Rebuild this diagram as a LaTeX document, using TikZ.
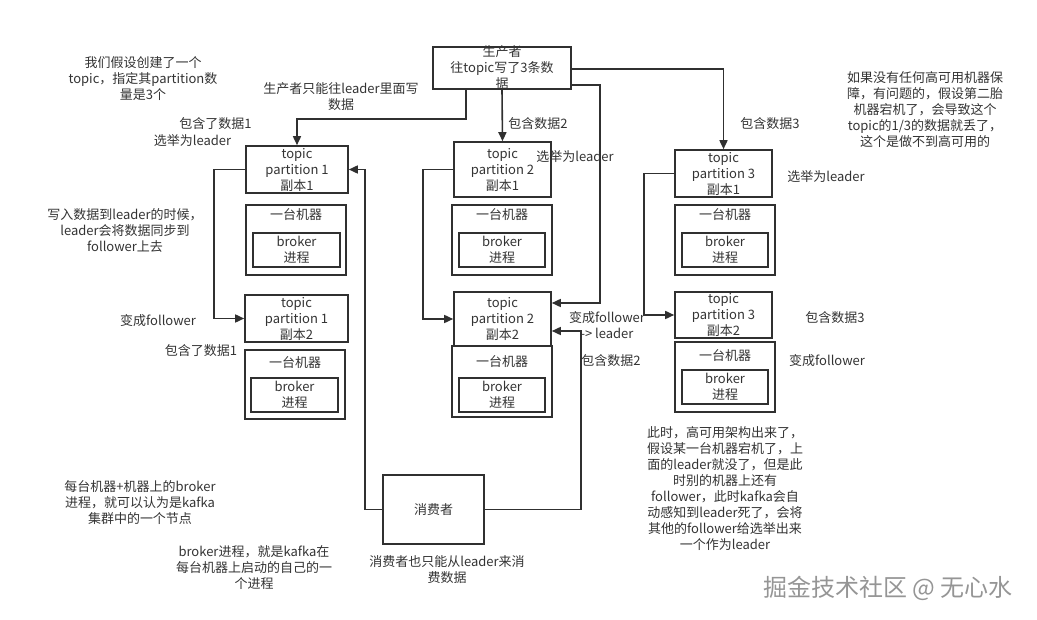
\documentclass[tikz,border=0pt]{standalone}
\usepackage{fontspec}
\setmainfont{Noto Sans CJK SC}
\usetikzlibrary{arrows.meta,calc}
\definecolor{lc}{HTML}{303030}
\definecolor{txt}{HTML}{333333}
\definecolor{wm}{HTML}{959595}
\begin{document}
\begin{tikzpicture}[x=1pt,y=-1pt,
  every node/.style={font=\fontsize{13}{16}\selectfont, text=txt, align=center, inner sep=0pt},
  box/.style={draw=lc, line width=1.6pt},
  conn/.style={draw=lc, line width=1.6pt},
  arr/.style={conn, -{Triangle[length=9pt,width=8pt]}},
  mach/.style={box, minimum width=100pt, minimum height=70pt, label={[anchor=north, yshift=-#1]north:一台机器}},
  mach/.default=4pt,
  brok/.style={box, minimum width=87pt, minimum height=34pt, label={center:broker\\进程}}
]
\useasboundingbox (0,0) rectangle (1037,620);

% producer
\node[box, minimum width=138pt, minimum height=42pt, label={center:生产者\\往topic写了3条数\\据}] (prod) at (502,68) {};

% partition 1
\node[box, minimum width=102pt, minimum height=47pt, label={center:topic\\partition 1\\副本1}] (p1r1) at (297,169.5) {};
\node[mach] (m1a) at (296,240) {};
\node[brok] (b1a) at (296.5,250) {};
\node[box, minimum width=103pt, minimum height=47pt, label={center:topic\\partition 1\\副本2}] (p1r2) at (296.5,318.5) {};
\node[mach=7pt, minimum height=69pt] (m1b) at (295,384.5) {};
\node[brok] (b1b) at (294.5,395) {};

% partition 2
\node[box, minimum width=97pt, minimum height=55pt, label={center:topic\\partition 2\\副本1}] (p2r1) at (502.5,169.5) {};
\node[mach] (m2a) at (502,240) {};
\node[brok, minimum width=86pt] (b2a) at (502,250) {};
\node[box, minimum width=97pt, minimum height=54pt, label={center:topic\\partition 2\\副本2}] (p2r2) at (502.5,319) {};
\node[mach=10pt, minimum height=71pt] (m2b) at (502,381.5) {};
\node[brok, minimum width=86pt] (b2b) at (502,395) {};

% partition 3
\node[box, minimum width=97pt, minimum height=47pt, label={center:topic\\partition 3\\副本1}] (p3r1) at (723.5,173.5) {};
\node[mach] (m3a) at (725,240) {};
\node[brok, minimum width=86pt] (b3a) at (725,250) {};
\node[box, minimum width=97pt, minimum height=46pt, label={center:topic\\partition 3\\副本2}] (p3r2) at (723.5,315) {};
\node[mach=8pt] (m3b) at (725,377) {};
\node[brok, minimum width=86pt] (b3b) at (725,387) {};

% consumer
\node[box, minimum width=101pt, minimum height=69pt] (cons) at (433.5,509.5) {消费者};

% connectors
\draw[arr] ($(prod.south)+(-36,0)$) -- ++(0,29) -| (p1r1.north);
\draw[arr] (prod.south) -- (p2r1.north);
\draw[arr] ($(prod.east)+(0,1)$) -| (p3r1.north);
\draw[arr] ($(prod.east)+(0,17)$) -| (600,303) -- ($(p2r2.east)+(0,-16)$);
\draw[arr] (p1r1.west) -- ++(-31,0) |- (p1r2.west);
\draw[arr] (p2r1.west) -- ++(-30,0) |- (p2r2.west);
\draw[arr] (p3r1.west) -- ++(-30,0) |- (p3r2.west);
\draw[arr] (cons.west) -- ++(-17,0) |- (p1r1.east);
\draw[arr] (cons.east) -- ++(96,0) |- ($(p2r2.east)+(0,12)$);

% annotations
\node (t1) at (143,79) {我们假设创建了一个\\topic，指定其partition数\\量是3个};
\node (t2) at (341,96.5) {生产者只能往leader里面写\\数据};
\node (t3) at (215.5,124) {包含了数据1};
\node (t4) at (192.5,141) {选举为leader};
\node (t5) at (125,230) {写入数据到leader的时候，\\leader会将数据同步到\\follower上去};
\node (t6) at (158,321) {变成follower};
\node (t7) at (201,351) {包含了数据1};
\node (t8) at (140,503) {每台机器+机器上的broker\\进程，就可以认为是kafka\\集群中的一个节点};
\node (t9) at (254,568) {broker进程，就是kafka在\\每台机器上启动的自己的一\\个进程};
\node (t10) at (538,124) {包含数据2};
\node (t11) at (575,157) {选举为leader};
\node (t12) at (607,325) {变成follower\\-> leader};
\node (t13) at (611,361) {包含数据2};
\node (t14) at (447,569.5) {消费者也只能从leader来消\\费数据};
\node (t15) at (770,124) {包含数据3};
\node (t16) at (826,177) {选举为leader};
\node (t17) at (925,110) {如果没有任何高可用机器保\\障，有问题的，假设第二胎\\机器宕机了，会导致这个\\topic的1/3的数据就丢了，\\这个是做不到高可用的};
\node (t18) at (835,318) {包含数据3};
\node (t19) at (827,361) {变成follower};
\node (t20) at (725,488.5) {此时，高可用架构出来了，\\假设某一台机器宕机了，上\\面的leader就没了，但是此\\时别的机器上还有\\follower，此时kafka会自\\动感知到leader死了，会将\\其他的follower给选举出来\\一个作为leader};
\node[font=\fontsize{24}{27}\selectfont, text=wm] (wmk) at (888,588) {掘金技术社区 @ 无心水};
\end{tikzpicture}
\end{document}
